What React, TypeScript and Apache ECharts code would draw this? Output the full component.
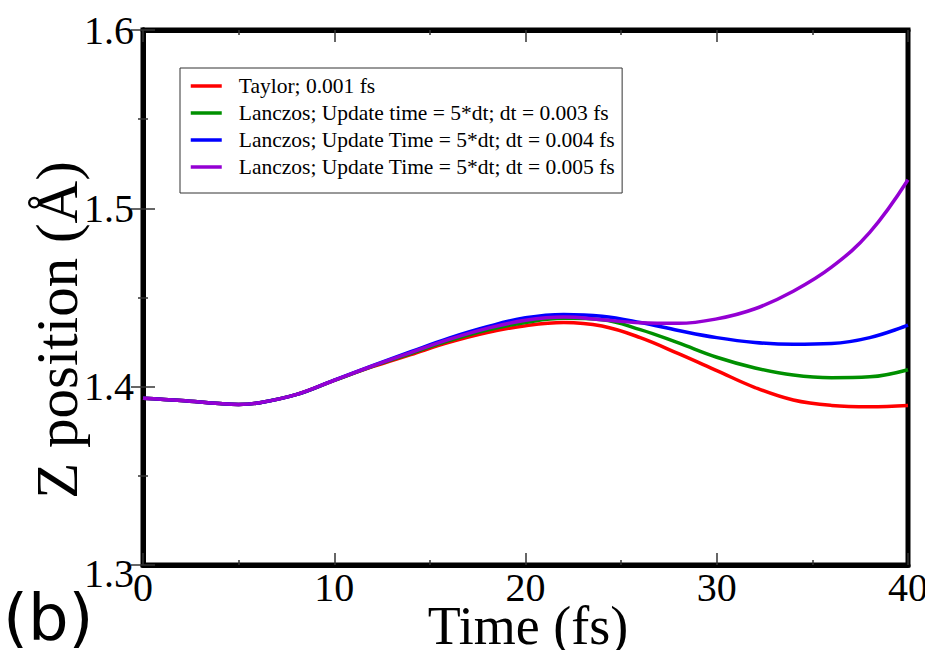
import React, { useEffect, useRef } from "react";
import * as echarts from "echarts";

const timeFs = [0, 2, 4, 5, 6, 8, 10, 12, 14, 16, 18, 20, 22, 24, 26, 28, 30, 32, 34, 36, 38, 40];
const taylor = [1.3935, 1.3922, 1.3905, 1.39, 1.3908, 1.3955, 1.4035, 1.4112, 1.418, 1.4248, 1.4303, 1.4342, 1.436, 1.434, 1.4275, 1.4185, 1.409, 1.3995, 1.3925, 1.3895, 1.3888, 1.3895];
const lanczos3 = [1.3935, 1.3922, 1.3905, 1.39, 1.3908, 1.3955, 1.4035, 1.4114, 1.4186, 1.4258, 1.4318, 1.436, 1.4383, 1.4375, 1.432, 1.4245, 1.4165, 1.4105, 1.4065, 1.405, 1.4055, 1.4095];
const lanczos4 = [1.3935, 1.3922, 1.3905, 1.39, 1.3908, 1.3955, 1.4037, 1.4118, 1.4196, 1.4272, 1.4336, 1.4386, 1.4405, 1.4395, 1.436, 1.4315, 1.4275, 1.4248, 1.4238, 1.4242, 1.4275, 1.4345];
const lanczos5 = [1.3935, 1.3922, 1.3905, 1.39, 1.3908, 1.3955, 1.4036, 1.4116, 1.4191, 1.4265, 1.4327, 1.4372, 1.439, 1.4375, 1.4358, 1.4355, 1.438, 1.4437, 1.4535, 1.467, 1.4865, 1.516];

const seriesNames = [
  "Taylor; 0.001 fs",
  "Lanczos; Update time = 5*dt; dt = 0.003 fs",
  "Lanczos; Update Time = 5*dt; dt = 0.004 fs",
  "Lanczos; Update Time = 5*dt; dt = 0.005 fs",
];
const seriesValues = [taylor, lanczos3, lanczos4, lanczos5];
const seriesColors = ["#ff0000", "#009000", "#0000ff", "#9400d3"];

const xTicks = { min: 0, max: 40, interval: 10 };
const yTicks = { min: 1.3, max: 1.6, interval: 0.1 };

const SERIF = "'Liberation Serif', 'DejaVu Serif', serif";

export default function App() {
  const ref = useRef<HTMLDivElement>(null);

  useEffect(() => {
    if (!ref.current) return;
    const chart = echarts.init(ref.current, null, { renderer: "svg" });

    const tickStyle = { color: "#333", width: 1.5 };
    const commonX = {
      type: "value" as const,
      min: xTicks.min,
      max: xTicks.max,
      interval: xTicks.interval,
      splitLine: { show: false },
      axisLine: { show: true, lineStyle: { color: "#000", width: 5 } },
      axisTick: { show: true, inside: true, length: 12, lineStyle: tickStyle },
      minorTick: { show: true, splitNumber: 2, length: 5, lineStyle: tickStyle },
    };
    const commonY = {
      type: "value" as const,
      min: yTicks.min,
      max: yTicks.max,
      interval: yTicks.interval,
      splitLine: { show: false },
      axisLine: { show: true, lineStyle: { color: "#000", width: 5 } },
      axisTick: { show: true, inside: true, length: 12, lineStyle: tickStyle },
      minorTick: { show: true, splitNumber: 2, length: 5, lineStyle: tickStyle },
    };

    chart.setOption({
      animation: false,
      backgroundColor: "#fff",
      grid: {
        left: 143,
        right: 25,
        top: 30,
        bottom: 93,
        show: true,
        borderColor: "#000",
        borderWidth: 5,
        backgroundColor: "transparent",
      },
      legend: {
        orient: "vertical",
        left: 180,
        top: 68,
        padding: [7, 7, 15, 9],
        itemWidth: 31,
        itemHeight: 14,
        itemGap: 5,
        borderColor: "#333",
        borderWidth: 1,
        backgroundColor: "#fff",
        data: seriesNames,
        itemStyle: { opacity: 0 },
        lineStyle: { width: 3.5 },
        textStyle: {
          fontFamily: SERIF,
          fontSize: 21.5,
          lineHeight: 19,
          color: "#000",
          padding: [0, 0, 0, 12],
        },
      },
      xAxis: [
        {
          ...commonX,
          position: "bottom",
          axisLabel: {
            show: true,
            margin: 2,
            fontFamily: SERIF,
            fontSize: 40,
            color: "#000",
          },
        },
        { ...commonX, position: "top", axisLabel: { show: false } },
      ],
      yAxis: [
        {
          ...commonY,
          position: "left",
          axisLabel: {
            show: true,
            margin: 9,
            fontFamily: SERIF,
            fontSize: 40,
            color: "#000",
            formatter: (v: number) => {
              const s = v.toFixed(1);
              return Math.abs(v - yTicks.min) < 1e-9 ? "{low|" + s + "}" : s;
            },
            rich: {
              low: {
                fontFamily: SERIF,
                fontSize: 40,
                color: "#000",
                padding: [16, 0, 0, 0],
              },
            },
          },
        },
        { ...commonY, position: "right", axisLabel: { show: false } },
      ],
      graphic: [
        {
          type: "text",
          x: 528,
          y: 626,
          style: {
            text: "Time (fs)",
            fontFamily: SERIF,
            fontSize: 54,
            fill: "#000",
            align: "center",
            verticalAlign: "middle",
          },
        },
        {
          type: "text",
          x: 57,
          y: 330,
          rotation: Math.PI / 2,
          style: {
            text: "Z position (Å)",
            fontFamily: SERIF,
            fontSize: 59,
            fill: "#000",
            align: "center",
            verticalAlign: "middle",
          },
        },
        {
          type: "text",
          x: 3,
          y: 618,
          style: {
            text: "(b)",
            fontFamily: "'DejaVu Sans', sans-serif",
            fontSize: 64,
            fill: "#000",
            align: "left",
            verticalAlign: "middle",
          },
        },
      ],
      series: seriesNames.map((name, i) => ({
        name,
        type: "line",
        xAxisIndex: 0,
        yAxisIndex: 0,
        smooth: 0.4,
        symbol: "none",
        data: timeFs.map((t, j) => [t, seriesValues[i][j]]),
        lineStyle: { color: seriesColors[i], width: 3.5 },
        itemStyle: { color: seriesColors[i] },
        z: 2 + i,
      })),
    });

    return () => chart.dispose();
  }, []);

  return <div ref={ref} style={{ width: 933, height: 658, margin: -8 }} />;
}
